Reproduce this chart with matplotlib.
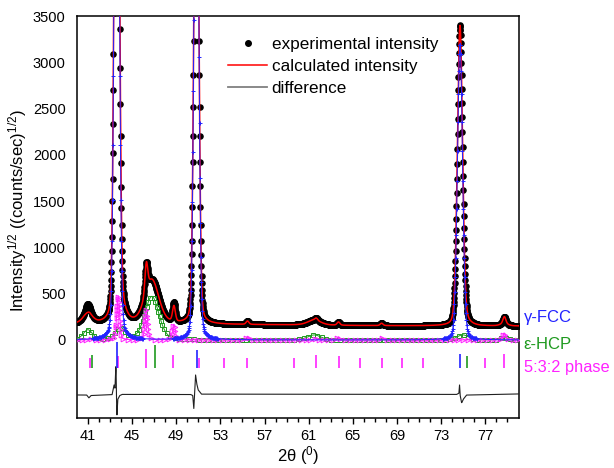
import numpy as np
import matplotlib
matplotlib.use('Agg')
import matplotlib.pyplot as plt
from matplotlib.lines import Line2D

plt.rcParams['font.family'] = ['Liberation Sans', 'DejaVu Sans']
plt.rcParams['mathtext.fontset'] = 'custom'
plt.rcParams['mathtext.rm'] = 'Liberation Sans'
plt.rcParams['mathtext.it'] = 'Liberation Sans:italic'

# ---------------- data ----------------
two_theta_start, two_theta_stop, two_theta_step = 40.0, 80.0, 0.02

# background knots
bg_x = [40, 45, 50, 55, 60, 65, 70, 75, 80]
bg_y = [172, 170, 166, 165, 162, 156, 153, 150, 150]

# gamma-FCC reflections (position, height, FWHM)
fcc_pos = [43.62, 50.83, 74.70]
fcc_height = [9000, 6900, 3200]
fcc_fwhm = [0.46, 0.46, 0.55]

# epsilon-HCP reflections
hcp_pos = [41.0, 43.95, 46.8, 61.5, 74.95, 78.7]
hcp_height = [108, 126, 470, 54, 55, 25]
hcp_fwhm = [1.0, 1.0, 1.5, 1.4, 1.2, 0.8]

# 5:3:2 phase reflections
p532_pos = [41.16, 43.75, 46.30, 48.80, 55.46, 61.68, 63.70, 67.60, 78.72]
p532_height = [10, 480, 320, 170, 36, 25, 35, 25, 75]
p532_fwhm = [0.3, 0.3, 0.3, 0.3, 0.3, 0.3, 0.3, 0.3, 0.3]

# observed intensity not covered by the fit
obs_extra_pos = [41.0, 48.8]
obs_extra_height = [90, 40]
obs_extra_fwhm = [0.45, 0.35]

# difference curve (offset below the pattern)
diff_x = [40.0, 40.9, 41.1, 41.3, 43.2, 43.38, 43.46, 43.55, 43.63, 43.72, 43.9, 44.1,
          50.3, 50.5, 50.6, 50.68, 50.76, 50.86, 51.0, 51.3,
          74.4, 74.6, 74.66, 74.72, 74.85, 75.0, 75.3, 80.0]
diff_y = [-594, -595, -625, -600, -590, -486, -520, -260, -830, -640, -600, -588,
          -588, -600, -740, -560, -378, -470, -540, -585,
          -588, -575, -486, -600, -680, -640, -595, -583]

# reflection tick marks
tick_fcc_pos = [43.64, 50.88, 74.68]
tick_fcc_top = [-22, -108, -150]
tick_hcp_pos = [41.38, 47.05, 75.37]
tick_hcp_top = [-162, -54, -170]
tick_532_pos = [41.16, 43.73, 46.29, 48.74, 51.03, 53.29, 55.46, 59.69, 61.68,
                63.70, 65.66, 67.62, 69.49, 71.39, 76.97, 78.72]
tick_532_top = [-194, -170, -97, -162, -194, -194, -194, -194, -162,
                -170, -194, -194, -194, -194, -194, -150]
tick_bottom = -302

x_ticks = [41, 45, 49, 53, 57, 61, 65, 69, 73, 77]
y_ticks = [0, 500, 1000, 1500, 2000, 2500, 3000, 3500]

# ---------------- build profiles ----------------
tt = np.arange(two_theta_start, two_theta_stop + 1e-9, two_theta_step)


def pv(x, pos, height, fwhm, eta):
    out = np.zeros_like(x)
    for c, h, w in zip(pos, height, fwhm):
        d = (x - c) / w
        g = np.exp(-4 * np.log(2) * d ** 2)
        l = 1.0 / (1 + 4 * d ** 2)
        out += h * (eta * l + (1 - eta) * g)
    return out


bg = np.interp(tt, bg_x, bg_y)
fcc = pv(tt, fcc_pos, fcc_height, fcc_fwhm, 0.15)
hcp = pv(tt, hcp_pos, hcp_height, hcp_fwhm, 0.3)
p532 = pv(tt, p532_pos, p532_height, p532_fwhm, 0.3)
calc = bg + fcc + hcp + p532
obs = calc + pv(tt, obs_extra_pos, obs_extra_height, obs_extra_fwhm, 0.3)
diff = np.interp(tt, diff_x, diff_y)

# ---------------- plot ----------------
fig = plt.figure(figsize=(6.14, 4.68), dpi=100)
ax = fig.add_axes([0.125, 0.1068, 0.7195, 0.859])

BLUE = '#2323ff'
GREEN = '#1f9a1f'
MAG = '#ff22ff'

ax.plot(tt, obs, ls='none', marker='o', ms=3.7, color='black', zorder=2)
ax.plot(tt, calc, color='red', lw=1.1, zorder=3)

ax.plot(tt, hcp, color=GREEN, lw=0.7, marker='s', ms=3.2, mfc='none', mew=0.7,
        markevery=0.008, zorder=4)
ax.plot(tt, p532, color=MAG, lw=0.7, marker='>', ms=3.4, mfc='none', mew=0.7,
        markevery=0.008, zorder=4)
ax.plot(tt, fcc, color=BLUE, lw=0.7, zorder=5)
fcc_m = np.where(fcc > 15, fcc, np.nan)
ax.plot(tt, fcc_m, ls='none', marker='+', ms=3.5, mew=0.7, color=BLUE,
        markevery=2, zorder=5)

ax.plot(tt, diff, color='#202020', lw=0.8, zorder=3)

ax.vlines(tick_532_pos, tick_bottom, tick_532_top, color=MAG, lw=1.2, zorder=6)
ax.vlines(tick_hcp_pos, tick_bottom, tick_hcp_top, color=GREEN, lw=1.2, zorder=6)
ax.vlines(tick_fcc_pos, tick_bottom, tick_fcc_top, color=BLUE, lw=1.2, zorder=6)

ax.set_xlim(two_theta_start, two_theta_stop)
ax.set_ylim(-843, 3500)
ax.set_xticks(x_ticks)
ax.set_xticks(np.arange(41, 80, 1), minor=True)
ax.set_yticks(y_ticks)
ax.tick_params(axis='x', which='major', direction='out', length=4, width=1,
               labelsize=10.5, pad=4)
ax.tick_params(axis='x', which='minor', direction='out', length=3, width=1)
ax.tick_params(axis='y', length=0, labelsize=10.5, pad=8)
for s in ax.spines.values():
    s.set_linewidth(1.1)

ax.set_xlabel(r'2θ ($\mathregular{^0}$)', fontsize=12, labelpad=1)
ax.set_ylabel(r'Intensity$\mathregular{^{1/2}}$ ((counts/sec)$\mathregular{^{1/2}}$)',
              fontsize=12)
ax.yaxis.set_label_coords(-0.108, 0.515)

tr = ax.get_yaxis_transform()
ax.text(1.012, 238, 'γ-FCC', color=BLUE, fontsize=12, transform=tr,
        va='center', ha='left', clip_on=False)
ax.text(1.012, -54, 'ε-HCP', color=GREEN, fontsize=12, transform=tr,
        va='center', ha='left', clip_on=False)
ax.text(1.012, -292, '5:3:2 phase', color=MAG, fontsize=11.8, transform=tr,
        va='center', ha='left', clip_on=False)

handles = [Line2D([], [], ls='none', marker='o', ms=4.0, color='black'),
           Line2D([], [], color='red', lw=1.1),
           Line2D([], [], color='#808080', lw=1.3)]
labels = ['experimental intensity', 'calculated intensity', 'difference']
ax.legend(handles, labels, loc='upper left', bbox_to_anchor=(0.3425, 0.948),
          frameon=False, fontsize=12.3, handlelength=2.3, handletextpad=0.25,
          labelspacing=0.4, borderpad=0, borderaxespad=0)

fig.savefig('out.png', dpi=100)
